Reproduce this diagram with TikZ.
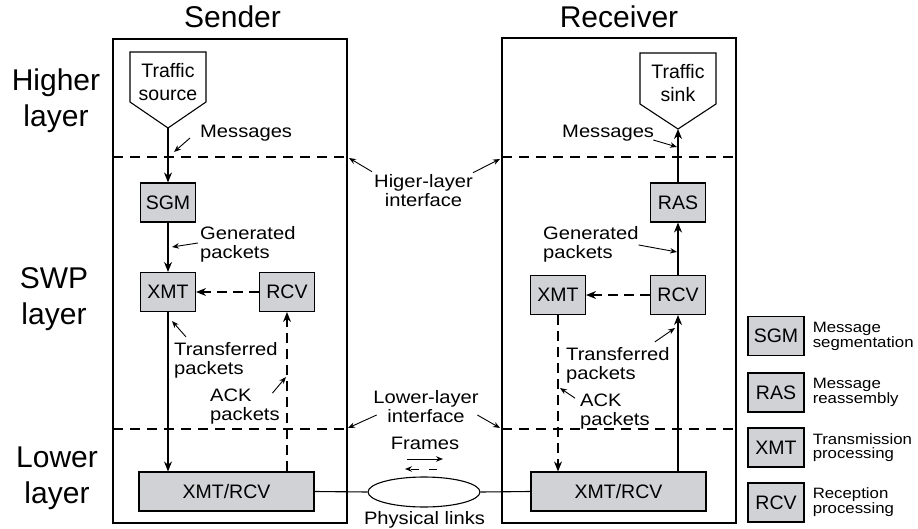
\documentclass[tikz,border=0pt]{standalone}
\usepackage{fontspec}
\setmainfont{Liberation Sans}
\newfontfamily\lblfont[FakeStretch=1.12]{Liberation Sans}
\usetikzlibrary{arrows.meta,positioning,shapes.geometric}
\definecolor{procgray}{RGB}{209,210,214}

\begin{document}
\begin{tikzpicture}[x=1pt,y=-1pt,
	proc/.style={draw, fill=procgray, line width=1.1pt, inner sep=0pt,
		minimum width=55pt, minimum height=39pt,
		font=\fontsize{19.5}{22}\selectfont},
	big/.style={inner sep=0pt, align=center, font=\fontsize{30}{36}\selectfont},
	lbl/.style={inner sep=0pt, align=left, anchor=west,
		font=\lblfont\fontsize{18}{19}\selectfont},
	clbl/.style={inner sep=0pt, align=center,
		font=\lblfont\fontsize{18}{19}\selectfont},
	legtxt/.style={inner sep=0pt, align=left,
		font=\lblfont\fontsize{15}{13.5}\selectfont},
	flow/.style={line width=1.1pt, -{Stealth[length=10pt,width=8pt]}},
	ackflow/.style={flow, dash pattern=on 10pt off 6pt},
	ptr/.style={line width=0.9pt, -{Stealth[length=7pt,width=5.5pt]}},
	iface/.style={line width=1.1pt, dash pattern=on 10pt off 7pt}]

\useasboundingbox (0,0) rectangle (918,529);

% Layer names
\node [big] (higher) at (56,101) {Higher\\layer};
\node [big] (swp) at (54,299) {SWP\\layer};
\node [big] (lower) at (57,478) {Lower\\layer};

% Sender
\node [big, anchor=base] (sndTitle) at (232.5,28) {Sender};
\node [draw, line width=1.1pt, minimum width=234pt, minimum height=484pt] (sndBox) at (230,281) {};

% Receiver
\node [big, anchor=base] (rcvTitle) at (619,28) {Receiver};
\node [draw, line width=1.1pt, minimum width=234pt, minimum height=485pt] (rcvBox) at (619,280.5) {};

% Interfaces
\draw [iface] (113,157) -- (347,157);
\draw [iface] (502,157) -- (736,157);
\draw [iface] (113,429) -- (347,429);
\draw [iface] (502,429) -- (736,429);

% Traffic source and sink
\draw [line width=1.1pt] (130,52) -- (206,52) -- (206,102) -- (168,128) -- (130,102) -- cycle;
\coordinate (srcTip) at (168,128);
\node [inner sep=0pt, align=center, font=\fontsize{19.5}{23}\selectfont] (srcTxt) at (168,82.5) {Traffic\\source};
\draw [line width=1.1pt] (640,53) -- (716,53) -- (716,104) -- (678,129) -- (640,104) -- cycle;
\coordinate (sinkTip) at (678,129);
\node [inner sep=0pt, align=center, font=\fontsize{19.5}{23}\selectfont] (sinkTxt) at (678,83) {Traffic\\sink};

% Processing boxes
\node [proc] (sgm) at (168,202.5) {SGM};
\node [proc] (xmtS) at (168,292) {XMT};
\node [proc] (rcvS) at (287,292) {RCV};
\node [proc, minimum width=175pt] (xrS) at (226.5,491.5) {XMT/RCV};
\node [proc] (ras) at (678,202.5) {RAS};
\node [proc] (xmtR) at (558,295) {XMT};
\node [proc] (rcvR) at (678,295) {RCV};
\node [proc, minimum width=175pt] (xrR) at (618.5,491.5) {XMT/RCV};

% Physical links
\node [draw, ellipse, line width=1.1pt, inner sep=0pt,
	minimum width=112pt, minimum height=30pt] (link) at (424,492) {};
\draw [line width=1.1pt] (xrS.east) -- (link.west);
\draw [line width=1.1pt] (link.east) -- (xrR.west);

% Sender flows
\draw [flow] (srcTip) -- (sgm.north);
\draw [flow] (sgm.south) -- (xmtS.north);
\draw [flow] (xmtS.south) -- (xmtS.south |- xrS.north);
\draw [ackflow] (rcvS.south |- xrS.north) -- (rcvS.south);
\draw [ackflow] (rcvS.west) -- (xmtS.east);

% Receiver flows
\draw [flow] (rcvR.south |- xrR.north) -- (rcvR.south);
\draw [flow] (rcvR.north) -- (ras.south);
\draw [flow] (ras.north) -- (sinkTip);
\draw [ackflow] (rcvR.west) -- (xmtR.east);
\draw [ackflow] (xmtR.south) -- (xmtR.south |- xrR.north);

% Labels
\node [lbl] (msgS) at (200,133.5) {Messages};
\node [lbl] (msgR) at (562,133.5) {Messages};
\node [lbl] (genS) at (200,244) {Generated\\packets};
\node [lbl] (genR) at (543,244) {Generated\\packets};
\node [lbl] (trS) at (174,360) {Transferred\\packets};
\node [lbl] (trR) at (566,365) {Transferred\\packets};
\node [lbl] (ackS) at (210,407) {ACK\\packets};
\node [lbl] (ackR) at (580,412) {ACK\\packets};
\node [clbl] (hi) at (423.5,191) {Higer-layer\\interface};
\node [clbl] (lo) at (426,407) {Lower-layer\\interface};
\node [clbl] (frames) at (425,443.5) {Frames};
\node [clbl] (phys) at (424.5,520) {Physical links};

% Pointer ends
\coordinate (msgSpt) at (174,152);
\coordinate (msgRpt) at (677,147);
\coordinate (genSpt) at (172,247);
\coordinate (genRpt) at (677,252);
\coordinate (trSpt) at (172,321);
\coordinate (trRpt) at (675,328);
\coordinate (ackSpt) at (286,377);
\coordinate (ackRpt) at (560,388);
\coordinate (hiL) at (349,158);
\coordinate (hiR) at (500,159);
\coordinate (loL) at (348,428);
\coordinate (loR) at (500,428);

\draw [ptr] ([shift={(-10,4.5)}]msgS.west) -- (msgSpt);
\draw [ptr] ([shift={(-1,6.5)}]msgR.east) -- (msgRpt);
\draw [ptr] ([shift={(-2,-1)}]genS.west) -- (genSpt);
\draw [ptr] ([shift={(0,1)}]genR.east) -- (genRpt);
\draw [ptr] ([shift={(12,-5)}]trS.north west) -- (trSpt);
\draw [ptr] ([shift={(-15,-5)}]trR.north east) -- (trRpt);
\draw [ptr] ([shift={(-7.5,4)}]ackS.north east) -- (ackSpt);
\draw [ptr] ([shift={(-5,4)}]ackR.north west) -- (ackRpt);
\draw [ptr] ([shift={(-2,-3)}]hi.north west) -- (hiL);
\draw [ptr] ([shift={(0,-2)}]hi.north east) -- (hiR);
\draw [ptr] ([shift={(3.5,8)}]lo.west) -- (loL);
\draw [ptr] ([shift={(-1.5,8)}]lo.east) -- (loR);

% Frames direction
\coordinate (frA) at (407,459);
\coordinate (frB) at (443,459);
\coordinate (frC) at (437,469);
\coordinate (frD) at (405,469);
\draw [ptr] (frA) -- (frB);
\draw [ptr, dash pattern=on 8pt off 10pt] (frC) -- (frD);

% Legend
\node [proc, minimum width=56pt] (lgSGM) at (776,336) {SGM};
\node [proc, minimum width=56pt] (lgRAS) at (776,392.5) {RAS};
\node [proc, minimum width=56pt] (lgXMT) at (776,447.5) {XMT};
\node [proc, minimum width=56pt] (lgRCV) at (776,502.5) {RCV};
\node [legtxt, right=8pt of lgSGM] (lgSGMtxt) {Message\\segmentation};
\node [legtxt, right=8pt of lgRAS] (lgRAStxt) {Message\\reassembly};
\node [legtxt, right=8pt of lgXMT] (lgXMTtxt) {Transmission\\processing};
\node [legtxt, right=8pt of lgRCV] (lgRCVtxt) {Reception\\processing};

\end{tikzpicture}
\end{document}
